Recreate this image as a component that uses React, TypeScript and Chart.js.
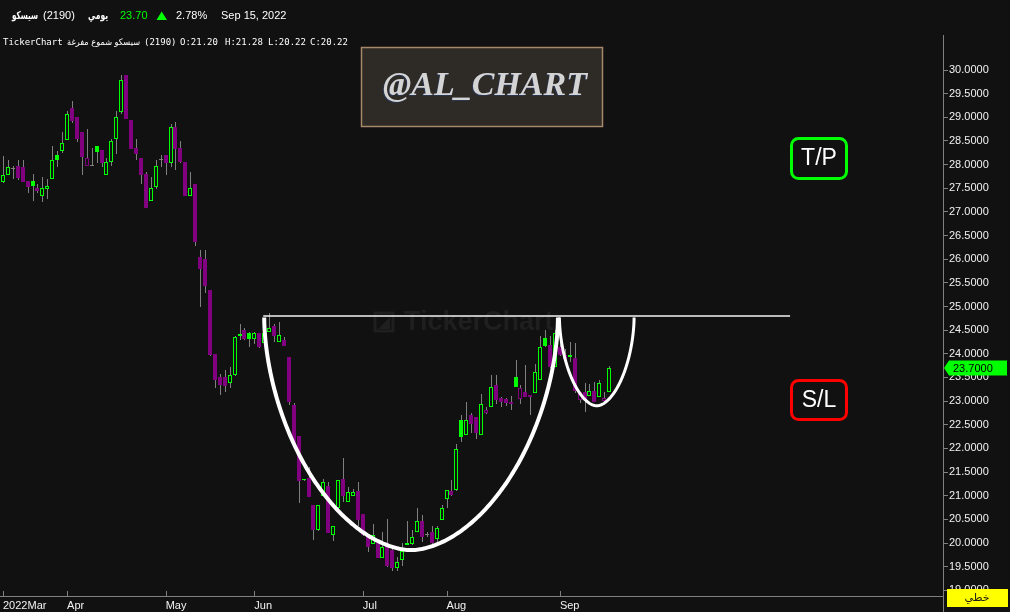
import { useEffect, useRef } from "react";
import { Chart, registerables } from "chart.js";

Chart.register(...registerables);

// ---- Daily candles (hollow-candle chart), 2022-03 .. 2022-09-15 ----
const opens = [
  27.64, 27.79, 27.91, 27.98, 27.95, 27.65, 27.66, 27.51, 27.34, 27.49,
  27.69, 28.20, 28.29, 28.53, 29.19, 29.01, 28.69, 27.98, 27.98, 28.39,
  28.31, 27.79, 28.05, 28.55, 29.12, 29.89, 28.94, 28.35, 28.14, 27.80,
  27.24, 27.53, 28.10, 28.20, 28.04, 28.80, 28.35, 28.06, 27.34, 27.59,
  26.04, 26.00, 25.35, 24.00, 23.52, 23.50, 23.39, 23.55, 24.42, 24.50,
  24.43, 24.31, 24.43, 24.22, 24.47, 24.59, 24.24, 24.29, 23.94, 22.92,
  22.26, 21.35, 21.37, 20.80, 20.27, 21.00, 21.20, 20.16, 20.75, 21.35,
  20.87, 21.00, 21.09, 20.61, 20.16, 19.97, 19.99, 19.69, 20.01, 19.85,
  19.48, 19.64, 19.99, 19.98, 20.24, 20.46, 20.17, 20.23, 20.08, 20.49,
  20.94, 21.10, 21.13, 22.60, 22.28, 22.71, 22.66, 22.28, 22.74, 22.88,
  23.34, 23.06, 23.05, 22.99, 23.50, 23.04, 23.19, 23.13, 23.18, 23.45,
  24.33, 24.19, 23.73, 24.15, 23.97, 23.97, 23.92, 23.03, 23.19, 23.11,
  23.21, 23.09, 23.00, 23.20,
];
const highs = [
  28.18, 28.10, 27.96, 28.10, 28.10, 27.65, 27.80, 27.59, 27.73, 27.70,
  28.39, 28.29, 28.69, 29.13, 29.34, 29.01, 28.69, 28.75, 28.35, 28.39,
  28.31, 28.15, 28.54, 29.13, 29.89, 29.89, 28.94, 28.54, 28.14, 27.84,
  27.74, 28.10, 28.20, 28.20, 28.85, 28.90, 28.50, 28.06, 27.84, 27.59,
  26.19, 26.19, 25.35, 24.00, 23.57, 23.66, 23.73, 24.38, 24.63, 24.54,
  24.47, 24.47, 24.45, 24.45, 24.86, 24.64, 24.68, 24.35, 23.94, 22.95,
  22.26, 21.36, 21.60, 20.80, 20.80, 21.35, 21.28, 20.35, 21.33, 21.79,
  21.18, 21.15, 21.30, 20.61, 20.20, 20.40, 20.02, 20.23, 20.51, 19.94,
  19.71, 20.01, 20.47, 20.28, 20.75, 20.59, 20.23, 20.35, 20.37, 20.80,
  21.12, 21.33, 22.09, 22.71, 22.99, 22.74, 22.66, 23.15, 22.88, 23.55,
  23.55, 23.08, 23.06, 23.10, 23.87, 23.35, 23.76, 23.13, 23.78, 24.38,
  24.50, 24.38, 24.50, 24.30, 24.10, 24.24, 24.22, 23.20, 23.38, 23.37,
  23.40, 23.45, 23.20, 23.75,
];
const lows = [
  27.62, 27.78, 27.70, 27.67, 27.64, 27.39, 27.24, 27.39, 27.20, 27.28,
  27.69, 27.94, 28.25, 28.53, 28.89, 28.48, 27.78, 27.98, 27.98, 28.04,
  27.94, 27.79, 27.98, 28.23, 29.08, 28.97, 28.34, 28.10, 27.59, 27.09,
  27.24, 27.48, 27.94, 27.78, 27.94, 27.89, 28.04, 27.34, 27.34, 26.28,
  24.98, 25.29, 23.96, 23.28, 23.13, 23.20, 23.28, 23.54, 24.29, 24.29,
  24.15, 24.20, 24.12, 24.18, 24.47, 24.24, 24.24, 24.17, 22.92, 22.10,
  20.85, 21.31, 20.98, 20.06, 20.26, 21.00, 20.22, 20.05, 20.66, 20.87,
  20.87, 21.00, 20.35, 20.15, 19.80, 19.97, 19.68, 19.69, 19.50, 19.41,
  19.40, 19.52, 19.95, 19.96, 20.24, 20.03, 20.12, 19.97, 20.01, 20.49,
  20.73, 21.00, 21.09, 22.14, 22.28, 22.32, 22.19, 22.28, 22.72, 22.88,
  22.94, 22.88, 22.90, 22.81, 23.30, 22.94, 23.09, 22.71, 23.18, 23.45,
  24.15, 23.70, 23.73, 23.95, 23.85, 23.83, 23.18, 22.95, 22.78, 23.11,
  22.99, 23.09, 22.99, 23.20,
];
const closes = [
  27.79, 27.94, 27.91, 27.72, 27.64, 27.52, 27.54, 27.45, 27.50, 27.54,
  28.10, 28.10, 28.45, 29.08, 28.92, 28.54, 28.17, 28.13, 27.98, 28.27,
  28.04, 28.05, 28.50, 29.00, 29.79, 28.97, 28.34, 28.23, 27.77, 27.09,
  27.50, 27.98, 28.10, 28.04, 28.79, 28.34, 28.06, 27.34, 27.50, 26.37,
  25.79, 25.44, 23.98, 23.45, 23.34, 23.31, 23.55, 24.35, 24.38, 24.31,
  24.32, 24.45, 24.15, 24.43, 24.54, 24.38, 24.40, 24.17, 22.99, 22.11,
  21.32, 21.33, 20.98, 20.27, 20.80, 21.28, 20.22, 20.35, 21.33, 21.00,
  21.07, 21.08, 20.49, 20.17, 19.92, 20.18, 19.69, 19.92, 19.52, 19.48,
  19.59, 19.83, 19.96, 20.12, 20.46, 20.12, 20.17, 19.99, 20.31, 20.73,
  21.12, 21.02, 21.98, 22.25, 22.60, 22.52, 22.32, 22.94, 22.81, 23.29,
  23.02, 22.99, 22.97, 22.94, 23.30, 23.27, 23.09, 23.08, 23.62, 24.15,
  24.16, 23.73, 24.45, 23.97, 23.89, 23.94, 23.22, 23.20, 23.02, 23.21,
  22.99, 23.38, 23.06, 23.70,
];

// first candle of each month (candle index) and its label
const monthTickIndex = [0, 13, 33, 51, 73, 90, 113];
const monthTickLabels = ["2022Mar", "Apr", "May", "Jun", "Jul", "Aug", "Sep"];

// header texts
const symbolName = "سيسكو";
const symbolCode = "(2190)";
const periodLabel = "يومي";
const dateLabel = "Sep 15, 2022";
const chartTitle = "سيسكو شموع مفرغة";
const inspectedCandle = 66;
const brandLabel = "@AL_CHART";
const targetLabel = "T/P";
const stopLabel = "S/L";
const lineTypeLabel = "خطي";

// hand-drawn cup & handle (candle index, price)
const rimPrice = 24.77;
const cupLeftIdx = 53.0;
const cupRightIdx = 112.6;
const cupBottomPrice = 19.85;
const handleLeftIdx = 112.9;
const handleRightIdx = 128.05;
const handleBottomPrice = 22.9;
const resistancePrice = 24.8;
const resistanceFromIdx = 52.8;
const resistanceToIdx = 159.7;

const BG = "#111111";
const GREEN = "#00ff00";
const PURPLE = "#800080";
const WICK = "#808080";
const AXIS = "#808080";
const TEXT = "#f2f2f2";

function candleColor(i: number) {
  if (opens[i] === closes[i]) return WICK;
  const up = i === 0 || closes[i] >= closes[i - 1];
  return up ? GREEN : PURPLE;
}

function bowl(ctx: CanvasRenderingContext2D, chart: any, li: number, ri: number, top: number, bottom: number, lw: number) {
  const xs = chart.scales.x;
  const ys = chart.scales.y;
  const x0 = xs.getPixelForValue(li);
  const x1 = xs.getPixelForValue(ri);
  const yt = ys.getPixelForValue(top);
  const yb = ys.getPixelForValue(bottom);
  const cx = (x0 + x1) / 2;
  const rx = (x1 - x0) / 2;
  const ry = yb - yt;
  const e = 2 / 1.8;
  ctx.beginPath();
  for (let s = 0; s <= 240; s++) {
    const t = (Math.PI * s) / 240;
    const c = Math.cos(t);
    const sn = Math.sin(t);
    const px = cx - rx * Math.sign(c) * Math.pow(Math.abs(c), e);
    const py = yt + ry * Math.pow(Math.max(sn, 0), e);
    if (s === 0) ctx.moveTo(px, py);
    else ctx.lineTo(px, py);
  }
  ctx.lineWidth = lw;
  ctx.strokeStyle = "#ffffff";
  ctx.stroke();
}

function roundBox(ctx: CanvasRenderingContext2D, x: number, y: number, w: number, h: number, r: number) {
  ctx.beginPath();
  ctx.moveTo(x + r, y);
  ctx.lineTo(x + w - r, y);
  ctx.arcTo(x + w, y, x + w, y + r, r);
  ctx.lineTo(x + w, y + h - r);
  ctx.arcTo(x + w, y + h, x + w - r, y + h, r);
  ctx.lineTo(x + r, y + h);
  ctx.arcTo(x, y + h, x, y + h - r, r);
  ctx.lineTo(x, y + r);
  ctx.arcTo(x, y, x + r, y, r);
  ctx.closePath();
}

const decorPlugin = {
  id: "decor",
  // snap candle geometry (computed by the scales) to whole pixels for crisp edges
  afterDatasetsUpdate(chart: any) {
    chart.data.datasets.forEach((_: any, di: number) => {
      const meta = chart.getDatasetMeta(di);
      const isWick = di === 1;
      meta.data.forEach((el: any) => {
        el.x = Math.round(el.x) + (isWick ? 0.5 : 0);
        let top = Math.round(el.y);
        let base = Math.round(el.base);
        if (Math.abs(top - base) < 1) base = top + 1;
        el.y = top;
        el.base = base;
        el.height = base - top;
      });
    });
  },
  beforeDraw(chart: any) {
    const { ctx, width, height } = chart;
    ctx.save();
    ctx.fillStyle = BG;
    ctx.fillRect(0, 0, width, height);
    ctx.restore();
  },
  beforeDatasetsDraw(chart: any) {
    const { ctx } = chart;
    const wm = "#1f1f1f";
    ctx.save();
    ctx.strokeStyle = wm;
    ctx.lineWidth = 3;
    ctx.strokeRect(375, 313, 18, 18);
    ctx.fillStyle = wm;
    ctx.beginPath();
    ctx.moveTo(378, 329);
    ctx.lineTo(390, 317);
    ctx.lineTo(390, 329);
    ctx.closePath();
    ctx.fill();
    ctx.font = 'bold 27px "Liberation Sans", Arial, sans-serif';
    ctx.textBaseline = "middle";
    ctx.textAlign = "left";
    ctx.fillText("TickerChart", 404, 323);
    ctx.restore();
  },
  afterDatasetsDraw(chart: any) {
    const { ctx } = chart;
    const xs = chart.scales.x;
    const ys = chart.scales.y;
    ctx.save();
    ctx.lineCap = "butt";
    bowl(ctx, chart, cupLeftIdx, cupRightIdx, rimPrice, cupBottomPrice, 4);
    bowl(ctx, chart, handleLeftIdx, handleRightIdx, rimPrice, handleBottomPrice, 3);
    const yl = ys.getPixelForValue(resistancePrice);
    ctx.beginPath();
    ctx.moveTo(xs.getPixelForValue(resistanceFromIdx), yl);
    ctx.lineTo(xs.getPixelForValue(resistanceToIdx), yl);
    ctx.lineWidth = 1.6;
    ctx.strokeStyle = "#f4f4f4";
    ctx.stroke();
    ctx.restore();
  },
  afterDraw(chart: any) {
    const { ctx, chartArea } = chart;
    const xs = chart.scales.x;
    const ys = chart.scales.y;
    const last = closes.length - 1;
    ctx.save();

    // month tick marks (upward)
    ctx.strokeStyle = AXIS;
    ctx.lineWidth = 1;
    monthTickIndex.forEach((k) => {
      const x = Math.round(xs.getPixelForValue(k)) + 0.5;
      ctx.beginPath();
      ctx.moveTo(x, chartArea.bottom - 5);
      ctx.lineTo(x, chartArea.bottom);
      ctx.stroke();
    });
    // y-axis line down to the bottom
    ctx.beginPath();
    ctx.moveTo(Math.round(chartArea.right) + 0.5, chartArea.bottom);
    ctx.lineTo(Math.round(chartArea.right) + 0.5, chart.height);
    ctx.stroke();

    // header line 1
    ctx.textBaseline = "middle";
    ctx.textAlign = "left";
    const f1 = '11px "Liberation Sans", "DejaVu Sans", sans-serif';
    ctx.fillStyle = "#ffffff";
    ctx.font = 'bold 11px "DejaVu Sans", sans-serif';
    ctx.fillText(symbolName, 12, 16, 26);
    ctx.font = f1;
    ctx.fillText(symbolCode, 43, 16);
    ctx.font = 'bold 11px "DejaVu Sans", sans-serif';
    ctx.fillText(periodLabel, 88, 16, 20);
    ctx.font = f1;
    ctx.fillStyle = GREEN;
    ctx.fillText(closes[last].toFixed(2), 120, 16);
    ctx.beginPath();
    ctx.moveTo(156.5, 20);
    ctx.lineTo(161.7, 11.5);
    ctx.lineTo(167, 20);
    ctx.closePath();
    ctx.fill();
    ctx.fillStyle = "#ffffff";
    const pct = ((closes[last] / closes[last - 1] - 1) * 100).toFixed(2) + "%";
    ctx.fillText(pct, 176, 16);
    ctx.fillText(dateLabel, 221, 16);

    // header line 2
    const f2 = '9px "DejaVu Sans Mono", monospace';
    ctx.font = f2;
    const k = inspectedCandle;
    ctx.fillText("TickerChart", 3, 43);
    ctx.font = '9px "DejaVu Sans", sans-serif';
    ctx.fillText(chartTitle, 67, 43, 73);
    ctx.font = f2;
    ctx.fillText(symbolCode, 144, 43);
    ctx.fillText("O:" + opens[k].toFixed(2), 180, 43);
    ctx.fillText("H:" + highs[k].toFixed(2), 225, 43);
    ctx.fillText("L:" + lows[k].toFixed(2), 268, 43);
    ctx.fillText("C:" + closes[k].toFixed(2), 310, 43);

    // brand box
    ctx.fillStyle = "#2e2a25";
    ctx.fillRect(361, 47, 242, 80);
    ctx.strokeStyle = "#a8886a";
    ctx.lineWidth = 1.5;
    ctx.strokeRect(361.5, 47.5, 241, 79);
    ctx.font = 'italic bold 34px "Liberation Serif", "DejaVu Serif", serif';
    ctx.textAlign = "center";
    ctx.textBaseline = "alphabetic";
    ctx.fillStyle = "#2a3550";
    ctx.fillText(brandLabel, 484, 96);
    ctx.fillStyle = "#d4d4d4";
    ctx.fillText(brandLabel, 485, 95);

    // T/P and S/L boxes
    ctx.textBaseline = "middle";
    ctx.font = '23px "Liberation Sans", Arial, sans-serif';
    ctx.lineWidth = 3;
    roundBox(ctx, 791.5, 138.5, 55, 40, 7);
    ctx.strokeStyle = GREEN;
    ctx.stroke();
    ctx.fillStyle = "#ffffff";
    ctx.fillText(targetLabel, 819, 159);
    roundBox(ctx, 791.5, 380.5, 55, 39, 7);
    ctx.strokeStyle = "#ff0000";
    ctx.stroke();
    ctx.fillStyle = "#ffffff";
    ctx.fillText(stopLabel, 819, 401);

    // last price tag
    const yp = Math.round(ys.getPixelForValue(closes[last]));
    const ax = Math.round(chartArea.right) + 1;
    ctx.fillStyle = GREEN;
    ctx.beginPath();
    ctx.moveTo(ax, yp);
    ctx.lineTo(ax + 5, yp - 7.5);
    ctx.lineTo(1007, yp - 7.5);
    ctx.lineTo(1007, yp + 7.5);
    ctx.lineTo(ax + 5, yp + 7.5);
    ctx.closePath();
    ctx.fill();
    ctx.fillStyle = "#000000";
    ctx.textAlign = "left";
    ctx.font = '11px "Liberation Sans", Arial, sans-serif';
    ctx.fillText(closes[last].toFixed(4), 953, yp + 0.5);

    // line-type box
    ctx.fillStyle = "#ffff00";
    ctx.fillRect(947, 589, 61, 18);
    ctx.fillStyle = "#1a1a1a";
    ctx.textAlign = "center";
    ctx.font = '11px "DejaVu Sans", sans-serif';
    ctx.fillText(lineTypeLabel, 977, 598);

    ctx.restore();
  },
};

export default function App() {
  const ref = useRef<HTMLCanvasElement | null>(null);

  useEffect(() => {
    document.body.style.margin = "0";
    document.body.style.background = BG;
    const canvas = ref.current;
    if (!canvas) return;

    const chart = new Chart(canvas, {
      type: "bar",
      data: {
        datasets: [
          {
            label: "bodies",
            data: opens.map((o, i) => ({ x: i, y: [o, closes[i]] })) as any,
            backgroundColor: (c: any) => (closes[c.dataIndex] < opens[c.dataIndex] ? candleColor(c.dataIndex) : BG),
            borderColor: (c: any) => candleColor(c.dataIndex),
            borderWidth: 1,
            borderSkipped: false,
            grouped: false,
            barPercentage: 0.95,
            categoryPercentage: 1,
            maxBarThickness: 4,
            minBarLength: 1,
            order: 0,
          } as any,
          {
            label: "wicks",
            data: lows.map((l, i) => ({ x: i, y: [l, highs[i]] })) as any,
            backgroundColor: WICK,
            borderWidth: 0,
            grouped: false,
            barPercentage: 0.5,
            categoryPercentage: 1,
            maxBarThickness: 1,
            order: 1,
          } as any,
        ],
      },
      options: {
        responsive: false,
        devicePixelRatio: 1,
        animation: false,
        events: [],
        layout: { padding: { top: 35, left: 0, right: 0, bottom: 0 } },
        plugins: { legend: { display: false }, tooltip: { enabled: false } },
        scales: {
          x: {
            type: "linear",
            min: -0.548,
            max: 190.73,
            offset: false,
            grid: { display: true, drawOnChartArea: false, drawTicks: false },
            border: { display: true, color: AXIS, width: 1 },
            afterFit: (s: any) => {
              s.height = 16;
            },
            afterBuildTicks: (s: any) => {
              s.ticks = monthTickIndex.map((v) => ({ value: v }));
            },
            ticks: {
              autoSkip: false,
              maxRotation: 0,
              minRotation: 0,
              align: "start",
              padding: 3,
              color: TEXT,
              font: { family: '"Liberation Sans", Arial, sans-serif', size: 11 },
              callback: (v: any) => {
                const j = monthTickIndex.indexOf(Number(v));
                return j >= 0 ? monthTickLabels[j] : "";
              },
            },
          },
          y: {
            type: "linear",
            position: "right",
            min: 18.88,
            max: 30.74,
            grid: { display: true, drawOnChartArea: false, drawTicks: true, tickLength: 5, color: AXIS },
            border: { display: true, color: AXIS, width: 1 },
            afterFit: (s: any) => {
              s.width = 67;
            },
            afterBuildTicks: (s: any) => {
              s.ticks = s.ticks.filter((t: any) => t.value <= 30.0001 && t.value >= 18.9999);
            },
            ticks: {
              stepSize: 0.5,
              includeBounds: false,
              autoSkip: false,
              padding: 1,
              color: TEXT,
              font: { family: '"Liberation Sans", Arial, sans-serif', size: 11 },
              callback: (v: any) => Number(v).toFixed(4),
            },
          },
        },
      } as any,
      plugins: [decorPlugin as any],
    });

    return () => {
      chart.destroy();
    };
  }, []);

  return (
    <div style={{ width: 1010, height: 612, background: BG }}>
      <canvas ref={ref} width={1010} height={612} style={{ display: "block" }} />
    </div>
  );
}
